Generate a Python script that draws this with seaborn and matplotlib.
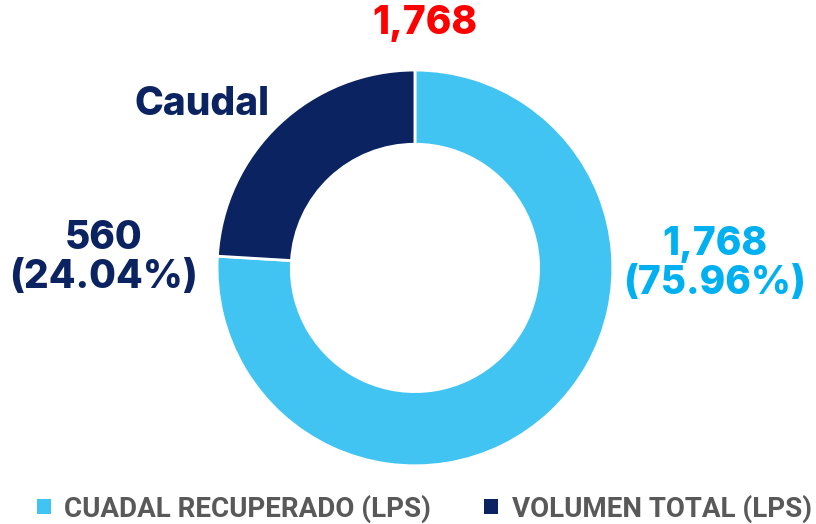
import matplotlib
matplotlib.use("Agg")
import matplotlib.pyplot as plt
import seaborn as sns
from matplotlib.patches import Patch

# datos
categorias = ["CUADAL RECUPERADO (LPS)", "VOLUMEN TOTAL (LPS)"]
valores = [1768, 560]
porcentajes = [75.96, 24.04]
colores = ["#41C4F2", "#0B2361"]
colores_texto = ["#00B0F0", "#0B2361"]
total_texto = "1,768"
titulo = "Caudal"

sns.set_theme(style="white")
fuente = ["Inter", "DejaVu Sans"]
plt.rcParams["font.family"] = fuente

fig = plt.figure(figsize=(8.16, 5.24), dpi=100)
ax = fig.add_axes([0.266, 0.1107, 0.485, 0.756])

wedges, _ = ax.pie(valores, colors=colores, startangle=90, counterclock=False,
                   radius=1.0, wedgeprops=dict(width=0.375, edgecolor="white", linewidth=2))
ax.set_xlim(-1, 1)
ax.set_ylim(-1, 1)
ax.set_aspect("equal")
ax.axis("off")

# etiquetas de valores
ax.text(1.515, 0.02, f"{valores[0]:,}\n({porcentajes[0]:.2f}%)", ha="center", va="center",
        fontsize=28, fontweight="heavy", color=colores_texto[0], linespacing=1.05)
ax.text(-1.575, 0.05, f"{valores[1]:,}\n({porcentajes[1]:.2f}%)", ha="center", va="center",
        fontsize=28, fontweight="heavy", color=colores_texto[1], linespacing=1.05)

fig.text(0.521, 0.955, total_texto, ha="center", va="center", fontsize=28,
         fontweight="heavy", color="#FF0000")
fig.text(0.248, 0.8, titulo, ha="center", va="center", fontsize=28,
         fontweight="heavy", color=colores[1])

handles = [Patch(facecolor=c, edgecolor="none") for c in colores]
fig.legend(handles, categorias, loc="lower center", bbox_to_anchor=(0.52, -0.045), ncol=2,
           frameon=False, handlelength=0.5, handleheight=0.5, handletextpad=0.5,
           columnspacing=1.9,
           prop=dict(family=["Roboto", "DejaVu Sans"], weight="bold", size=20),
           labelcolor="#595959")

fig.savefig("out.png", dpi=100)
